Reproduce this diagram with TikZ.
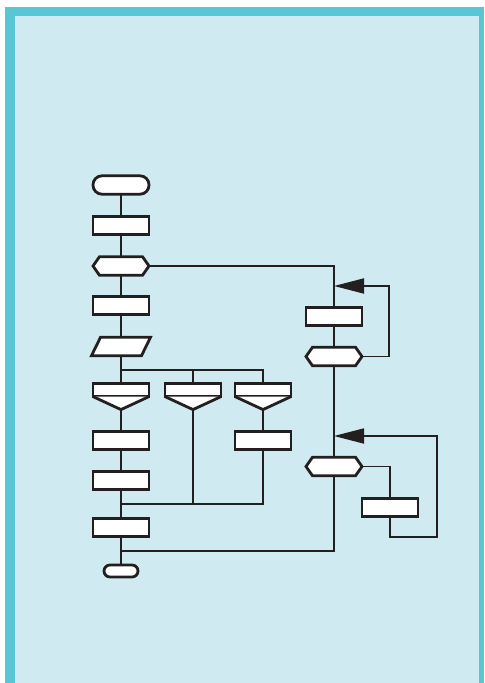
\documentclass[tikz,border=0pt]{standalone}
\usepackage{tikz}
\usetikzlibrary{shapes.symbols, arrows.meta, calc}
\definecolor{frameblue}{HTML}{58C6D4}
\definecolor{paleblue}{HTML}{CFEBF1}
\definecolor{ink}{HTML}{231F20}

\begin{document}
\begin{tikzpicture}[x=0.5pt, y=-0.5pt,
    box/.style={draw=ink, line width=1.4pt, fill=white, inner sep=0pt, outer sep=0pt},
    proc/.style={box, rectangle, minimum width=28pt, minimum height=9.2pt},
    term/.style={proc, rounded corners=4.5pt},
    hexa/.style={box, signal, signal to=east and west, signal pointer angle=110,
      minimum width=28pt, minimum height=9.2pt},
    casebox/.style={proc, minimum height=6.6pt},
    conn/.style={draw=ink, line width=0.9pt},
    bigtip/.style={-{Triangle[length=15pt,width=7.5pt]}}
  ]
  \useasboundingbox (0,0) rectangle (484,683);
  % frame
  \fill[frameblue] (5,7) rectangle (484,683);
  \fill[paleblue] (15,16) rectangle (479,683);

  % main column
  \node[term] (start) at (121,185){};
  \node[proc] (p1) at (121,225.5){};
  \node[hexa] (d1) at (121,266){};
  \node[proc] (p2) at (121,305.5){};
  \node[proc, draw=none, fill=none, minimum width=25pt] (io) at (121,346.5){};
  \node[casebox] (c1) at (121,390){};
  \node[casebox] (c2) at (193,390){};
  \node[casebox] (c3) at (263,390){};
  \node[proc] (p3) at (121,440.5){};
  \node[proc] (p4) at (263,440.5){};
  \node[proc] (p5) at (121,480.5){};
  \node[proc] (p6) at (121,527.5){};
  \node[term, minimum width=17pt, minimum height=6pt, rounded corners=3pt] (stop) at (121,571){};

  % right column
  \node[proc] (r1) at (334,316.5){};
  \node[hexa] (d2) at (334,356.5){};
  \node[hexa] (d3) at (334,466.5){};
  \node[proc] (r2) at (390,507.5){};

  \coordinate (j1) at (334,286);
  \coordinate (j2) at (334,436);
  \coordinate (fork) at (121,370);
  \coordinate (join) at (121,504);
  \coordinate (back) at (121,551);

  % slanted input box
  \filldraw[box] ($(io.north west)+(4.5,0)$) -- ($(io.north east)+(4.5,0)$)
    -- ($(io.south east)+(-4.5,0)$) -- ($(io.south west)+(-4.5,0)$) -- cycle;

  % case triangles
  \foreach \c in {c1,c2,c3}
    \filldraw[box] (\c.south west) -- ($(\c.south)+(0,13)$) coordinate (\c-tip) -- (\c.south east);

  % connectors
  \draw[conn] (start.south) -- (p1.north);
  \draw[conn] (p1.south) -- (d1.north);
  \draw[conn] (d1.south) -- (p2.north);
  \draw[conn] (p2.south) -- (io.north);
  \draw[conn] (io.south) -- (c1.north);
  \draw[conn] (fork) -| (c2.north);
  \draw[conn] (fork) -| (c3.north);
  \draw[conn] (c1-tip) -- (p3.north);
  \draw[conn] (c3-tip) -- (p4.north);
  \draw[conn] (p3.south) -- (p5.north);
  \draw[conn] (p5.south) -- (p6.north);
  \draw[conn] (c2-tip) -- (c2-tip |- join);
  \draw[conn] (p4.south) |- (join);
  \draw[conn] (p6.south) -- (stop.north);

  \draw[conn] (d1.east) -| (r1.north);
  \draw[conn] (r1.south) -- (d2.north);
  \draw[conn] (d2.south) -- (d3.north);
  \draw[conn] (d3.south) |- (back);
  \draw[conn, bigtip] (d2.east) -- ++(27,0) |- (j1);
  \draw[conn] (d3.east) -| (r2.north);
  \draw[conn, bigtip] (r2.south) |- ++(47,20) |- (j2);
\end{tikzpicture}
\end{document}
